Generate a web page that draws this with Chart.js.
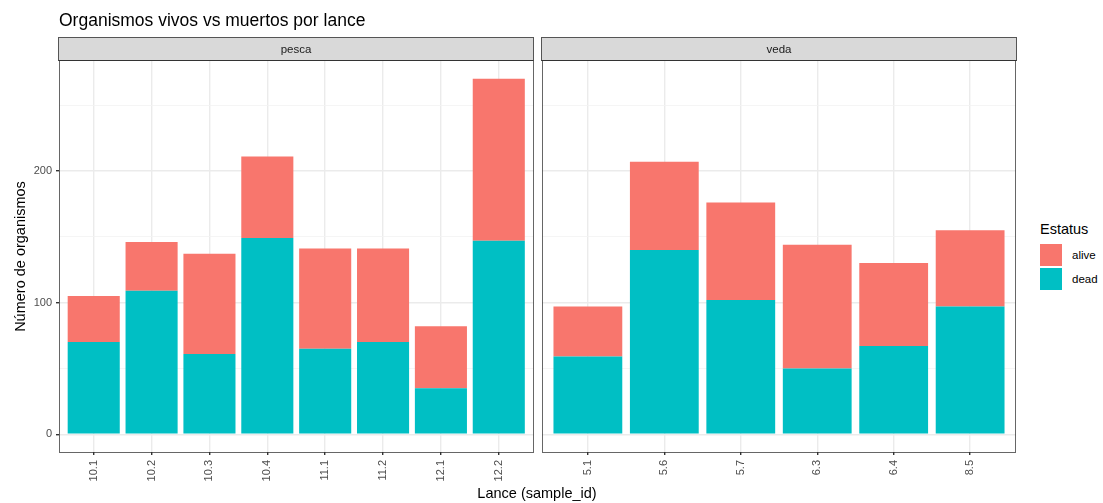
<!DOCTYPE html>
<html>
<head>
<meta charset="utf-8">
<script src="https://cdn.jsdelivr.net/npm/chart.js@4.4.1/dist/chart.umd.min.js"></script>
<style>
    body { margin: 0; width: 1103px; height: 503px; position: relative; background: #fff; overflow: hidden;
           font-family: "Liberation Sans", Arial, sans-serif; }
    canvas { position: absolute; top: 0; }
    #title { position: absolute; left: 59px; top: 9px; font-size: 17.5px; line-height: 22px; color: #000; }
    .strip { position: absolute; top: 37px; height: 24px; box-sizing: border-box; border: 1px solid #555;
             border-bottom-color: #333; background: #d9d9d9; color: #1a1a1a; font-size: 11.5px;
             line-height: 22px; text-align: center; }
    #xtitle { position: absolute; left: 337px; width: 400px; top: 484px; text-align: center;
              font-size: 14.5px; line-height: 18px; color: #000; }
    #legend { position: absolute; left: 1040px; top: 219px; color: #000; }
    #legend .ltitle { font-size: 14.5px; line-height: 20px; margin-bottom: 5px; }
    #legend .item { height: 22px; margin-bottom: 2px; display: flex; align-items: center; font-size: 11.5px; }
    #legend .key { width: 22px; height: 22px; margin-right: 10px; }
</style>
</head>
<body>
<canvas id="pescaChart" width="534" height="503" style="left:0"></canvas>
<canvas id="vedaChart" width="490" height="503" style="left:534px"></canvas>
<div id="title">Organismos vivos vs muertos por lance</div>
<div class="strip" style="left:58px;width:476px">pesca</div>
<div class="strip" style="left:541px;width:476px">veda</div>
<div id="xtitle">Lance (sample_id)</div>
<div id="legend"><div class="ltitle">Estatus</div></div>
<script>
// datos
const pescaLabels = ['10.1', '10.2', '10.3', '10.4', '11.1', '11.2', '12.1', '12.2'];
const pescaDead = [70, 109, 61, 149, 65, 70, 35, 147];
const pescaAlive = [35, 37, 76, 62, 76, 71, 47, 123];

const vedaLabels = ['5.1', '5.6', '5.7', '6.3', '6.4', '8.5'];
const vedaDead = [59, 140, 102, 50, 67, 97];
const vedaAlive = [38, 67, 74, 94, 63, 58];

const statusNames = ['alive', 'dead'];
const yMajorTicks = [0, 100, 200];
const yMinorTicks = [50, 150, 250];

const colors = { alive: '#F8766D', dead: '#00BFC4' };
const Y_MIN = -13.5, Y_MAX = 283.5;

// borde del panel (theme_bw)
const panelBorder = {
    id: 'panelBorder',
    afterDraw(chart) {
        const { ctx, chartArea: a } = chart;
        ctx.save();
        ctx.strokeStyle = 'rgba(51,51,51,0.75)';
        ctx.lineWidth = 1;
        ctx.strokeRect(Math.round(a.left) + 0.5, Math.round(a.top) - 0.5,
            Math.round(a.right - a.left) - 1, Math.round(a.bottom - a.top) + 1);
        ctx.restore();
    }
};

function makePanel(canvasId, labels, dead, alive, showY) {
    const ctx = document.getElementById(canvasId).getContext('2d');
    return new Chart(ctx, {
        type: 'bar',
        data: {
            datasets: [{
                label: 'dead',
                data: labels.map((l, i) => ({ x: i + 1, y: dead[i] })),
                backgroundColor: colors.dead,
                borderWidth: 0
            }, {
                label: 'alive',
                data: labels.map((l, i) => ({ x: i + 1, y: alive[i] })),
                backgroundColor: colors.alive,
                borderWidth: 0
            }]
        },
        options: {
            responsive: false,
            animation: false,
            devicePixelRatio: 1,
            barPercentage: 0.9,
            categoryPercentage: 1,
            layout: { padding: showY ? { top: 61, right: 0.5, bottom: 0, left: 0 } : { top: 61, right: 8, bottom: 0, left: 0 } },
            plugins: { legend: { display: false } },
            scales: {
                x: {
                    type: 'linear',
                    stacked: true,
                    offset: false,
                    min: 0.4,
                    max: labels.length + 0.6,
                    afterBuildTicks: (scale) => { scale.ticks = labels.map((l, i) => ({ value: i + 1 })); },
                    afterFit: (scale) => { scale.height = 51; },
                    ticks: {
                        autoSkip: false,
                        minRotation: 90,
                        maxRotation: 90,
                        padding: 5,
                        color: '#4d4d4d',
                        font: { family: 'Liberation Sans', size: 11 },
                        callback: (v) => labels[v - 1]
                    },
                    grid: { offset: false, color: '#ebebeb', lineWidth: 1.4, tickColor: '#333', tickLength: 3 },
                    border: { display: false }
                },
                y: {
                    stacked: true,
                    min: Y_MIN,
                    max: Y_MAX,
                    afterBuildTicks: (scale) => {
                        scale.ticks = yMajorTicks.concat(yMinorTicks).sort((a, b) => a - b).map(v => ({ value: v }));
                    },
                    afterFit: (scale) => { scale.width = showY ? 59 : 8; },
                    ticks: {
                        display: showY,
                        padding: 4,
                        color: '#4d4d4d',
                        font: { family: 'Liberation Sans', size: 11 },
                        callback: (v) => yMajorTicks.includes(v) ? v : ''
                    },
                    grid: {
                        color: (c) => yMajorTicks.includes(c.tick.value) ? '#ebebeb' : '#f3f3f3',
                        lineWidth: (c) => yMajorTicks.includes(c.tick.value) ? 1.4 : 0.8,
                        tickColor: (c) => yMajorTicks.includes(c.tick.value) ? '#333' : 'rgba(0,0,0,0)',
                        drawTicks: showY,
                        tickLength: 3
                    },
                    border: { display: false },
                    title: {
                        display: showY,
                        text: 'Número de organismos',
                        color: '#000',
                        padding: { top: 12, bottom: 0 },
                        font: { family: 'Liberation Sans', size: 14.5 }
                    }
                }
            }
        },
        plugins: [panelBorder]
    });
}

makePanel('pescaChart', pescaLabels, pescaDead, pescaAlive, true);
makePanel('vedaChart', vedaLabels, vedaDead, vedaAlive, false);

// leyenda "Estatus"
const legend = document.getElementById('legend');
statusNames.forEach(name => {
    const item = document.createElement('div');
    item.className = 'item';
    item.innerHTML = '<div class="key" style="background:' + colors[name] + '"></div><span>' + name + '</span>';
    legend.appendChild(item);
});
</script>
</body>
</html>
